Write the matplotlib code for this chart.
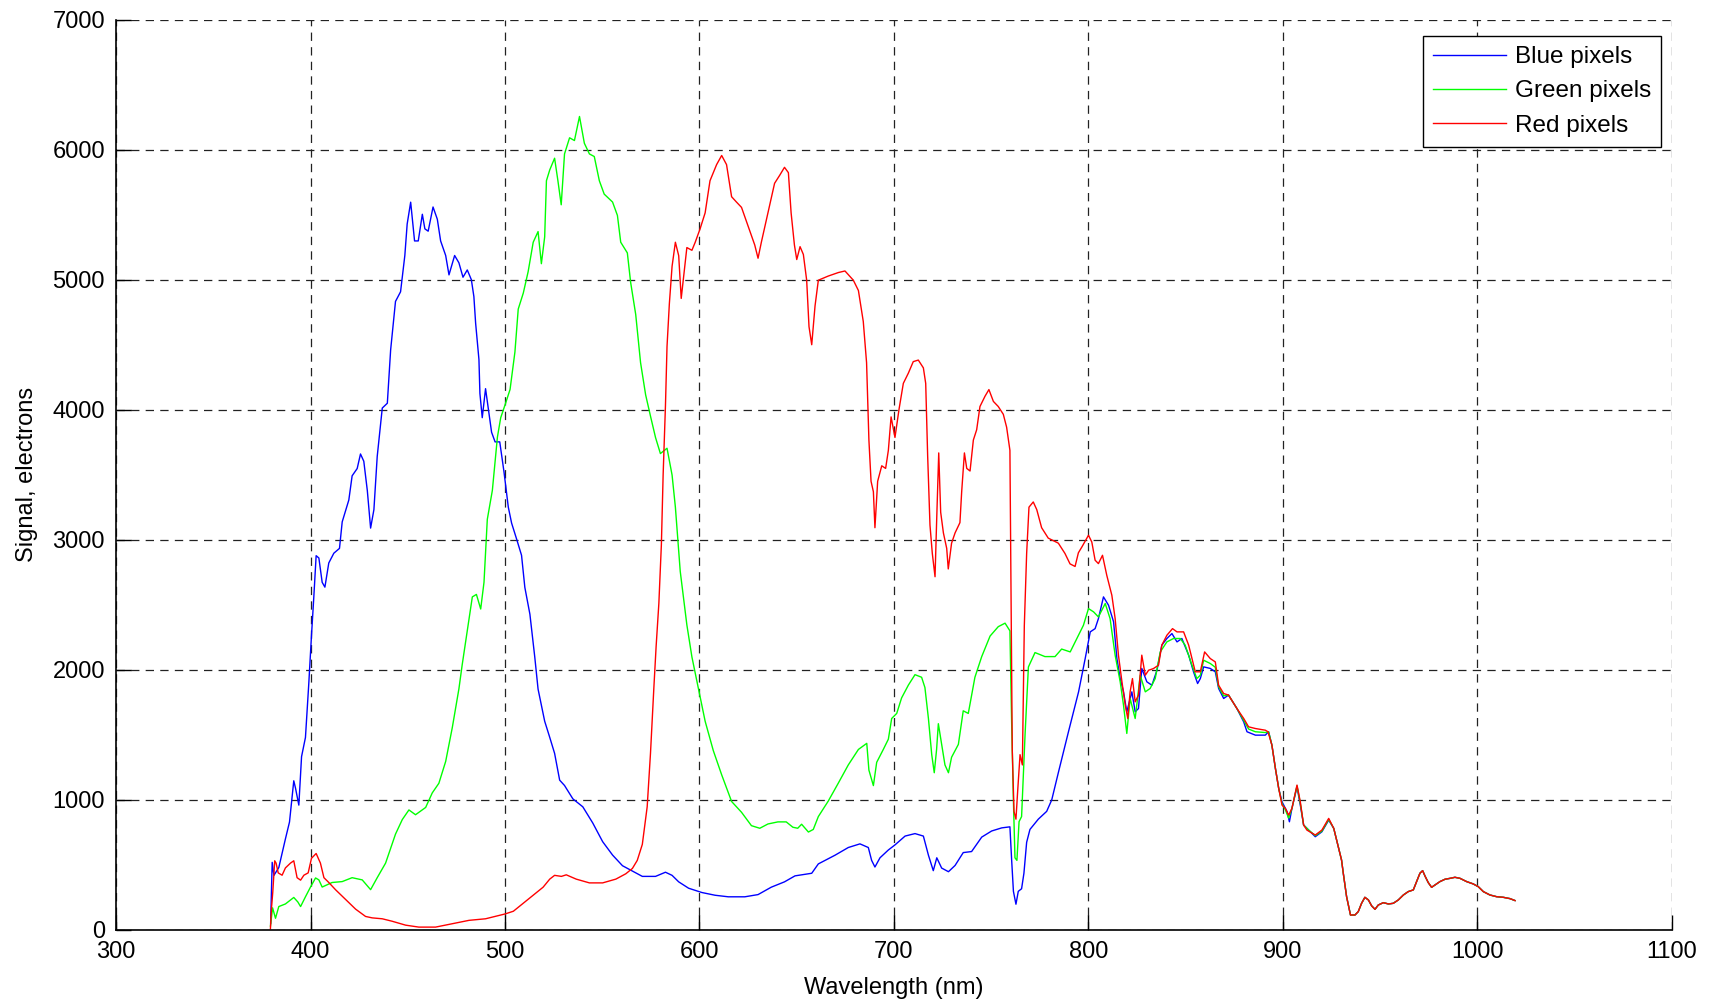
import matplotlib
matplotlib.use("Agg")
import matplotlib.pyplot as plt

plt.rcParams['font.family'] = ['Liberation Sans', 'DejaVu Sans']
plt.rcParams['lines.scale_dashes'] = False

# Spectral response of each pixel colour: (wavelength nm, signal electrons)
blue_pixels = [
    (379.5, 50), (380.3, 520), (381.2, 420), (383.7, 480), (387.1, 700), (389.2, 830),
    (391.4, 1147), (392.3, 1090), (394.0, 960), (395.4, 1333), (397.4, 1480), (399.1, 1890),
    (400.5, 2263), (401.7, 2560), (402.9, 2878), (404.3, 2860), (406.0, 2673), (407.4, 2636),
    (409.4, 2822), (412.0, 2897), (414.9, 2934), (416.3, 3138), (419.7, 3306), (421.4, 3492),
    (424.0, 3548), (425.7, 3660), (427.4, 3604), (429.2, 3380), (430.9, 3090), (432.6, 3232),
    (434.3, 3641), (436.9, 4013), (439.5, 4050), (441.2, 4460), (443.7, 4833), (446.3, 4907),
    (448.5, 5186), (449.7, 5428), (451.5, 5596), (453.5, 5298), (455.4, 5298), (457.5, 5503),
    (458.8, 5391), (460.5, 5373), (463.0, 5559), (465.2, 5465), (466.9, 5298), (469.5, 5186),
    (471.2, 5037), (474.1, 5186), (476.3, 5130), (478.4, 5019), (480.6, 5075), (482.7, 5000),
    (484.0, 4870), (484.9, 4665), (486.6, 4386), (487.1, 4125), (488.3, 3939), (490.0, 4162),
    (491.4, 4013), (493.1, 3827), (494.9, 3753), (497.3, 3753), (499.5, 3520), (501.7, 3251),
    (503.4, 3128), (506.0, 3004), (508.5, 2881), (510.2, 2634), (512.8, 2428), (515.3, 2099),
    (517.0, 1852), (518.7, 1728), (520.4, 1605), (523.0, 1481), (525.5, 1358), (528.1, 1152),
    (530.6, 1111), (534.9, 1008), (540.0, 947), (545.1, 823), (550.2, 679), (555.3, 576),
    (560.4, 494), (565.5, 453), (570.6, 412), (577.4, 412), (582.5, 444), (585.9, 420),
    (589.3, 370), (594.4, 321), (601.2, 288), (608.0, 267), (614.8, 255), (623.3, 255),
    (630.1, 272), (636.9, 329), (643.7, 370), (649.1, 416), (657.7, 436), (661.1, 508),
    (669.7, 575), (676.5, 634), (682.5, 662), (686.8, 634), (688.5, 535), (690.2, 484),
    (692.8, 555), (697.1, 615), (700.5, 654), (705.7, 722), (710.8, 741), (715.1, 722),
    (717.7, 575), (720.2, 456), (722.0, 555), (724.5, 476), (728.0, 448), (731.4, 496),
    (735.6, 595), (739.9, 603), (745.1, 714), (750.2, 761), (755.4, 785), (759.6, 793),
    (760.5, 535), (761.4, 297), (762.7, 198), (763.9, 297), (765.6, 317), (766.8, 436),
    (768.2, 674), (769.9, 773), (774.2, 852), (778.5, 912), (781.1, 1000), (784.6, 1216),
    (789.7, 1524), (794.9, 1831), (798.3, 2087), (800.9, 2292), (803.4, 2317), (805.1, 2394),
    (807.7, 2561), (810.3, 2497), (812.9, 2369), (814.6, 2087), (816.3, 1933), (818.0, 1831),
    (819.7, 1677), (822.3, 1831), (824.0, 1677), (825.7, 1703), (827.4, 2011), (830.0, 1908),
    (832.6, 1882), (835.2, 1997), (837.7, 2190), (840.3, 2241), (842.9, 2279), (845.5, 2215),
    (848.0, 2241), (851.5, 2113), (854.0, 1985), (856.1, 1895), (857.5, 1933), (859.2, 2023),
    (862.6, 2011), (865.2, 1985), (866.9, 1857), (869.5, 1780), (872.0, 1806), (876.3, 1703),
    (879.8, 1600), (881.5, 1524), (885.8, 1498), (890.9, 1498), (892.6, 1524), (894.3, 1421),
    (896.1, 1242), (897.8, 1088), (899.5, 986), (902.1, 909), (903.3, 832), (904.6, 935),
    (907.2, 1101), (908.9, 960), (910.6, 807), (913.2, 768), (916.6, 717), (920.0, 755),
    (923.5, 845), (926.1, 781),
]

green_pixels = [
    (379.4, 30), (380.5, 170), (382.0, 90), (383.7, 180), (387.1, 200), (391.4, 250),
    (393.5, 215), (394.9, 180), (397.4, 255), (400.0, 330), (402.6, 400), (404.3, 385),
    (406.0, 330), (411.1, 365), (416.3, 372), (421.4, 402), (426.6, 385), (430.9, 310),
    (434.3, 402), (438.6, 514), (443.7, 737), (447.2, 849), (450.6, 923), (454.0, 886),
    (459.2, 942), (462.6, 1054), (466.0, 1128), (469.5, 1296), (472.9, 1556), (476.3, 1854),
    (478.0, 2040), (480.6, 2301), (483.2, 2561), (485.3, 2580), (487.5, 2468), (489.2, 2673),
    (490.9, 3157), (493.5, 3380), (496.1, 3790), (497.8, 3939), (500.3, 4050), (502.6, 4156),
    (505.1, 4444), (506.8, 4774), (509.4, 4897), (511.9, 5062), (514.5, 5288), (517.0, 5370),
    (518.7, 5123), (520.4, 5329), (521.3, 5761), (523.0, 5844), (525.5, 5934), (527.2, 5761),
    (528.9, 5576), (530.6, 5967), (533.2, 6091), (535.7, 6070), (538.3, 6255), (540.8, 6049),
    (543.4, 5967), (545.9, 5947), (548.5, 5761), (551.0, 5658), (555.3, 5597), (557.8, 5494),
    (559.5, 5288), (562.9, 5206), (564.6, 4979), (567.2, 4733), (569.7, 4362), (572.3, 4115),
    (574.8, 3951), (577.4, 3786), (579.9, 3663), (583.3, 3704), (585.9, 3498), (587.6, 3251),
    (590.1, 2757), (591.8, 2551), (593.5, 2346), (596.1, 2099), (599.5, 1852), (602.9, 1605),
    (607.1, 1379), (611.4, 1193), (616.5, 988), (621.6, 905), (626.7, 802), (631.0, 782),
    (635.2, 815), (640.3, 831), (644.6, 831), (648.0, 790), (650.5, 782), (652.5, 813),
    (656.0, 753), (658.5, 773), (661.1, 872), (666.2, 991), (671.4, 1130), (676.5, 1269),
    (681.7, 1388), (686.0, 1435), (687.1, 1229), (689.4, 1110), (691.1, 1289), (694.5, 1388),
    (697.1, 1467), (698.8, 1626), (701.4, 1665), (703.9, 1784), (707.4, 1883), (710.8, 1963),
    (714.2, 1943), (715.9, 1864), (717.7, 1626), (719.4, 1348), (720.7, 1209), (721.9, 1388),
    (722.8, 1586), (724.5, 1427), (726.2, 1269), (728.0, 1209), (729.6, 1328), (733.1, 1427),
    (735.6, 1685), (738.2, 1665), (741.6, 1943), (745.1, 2102), (749.4, 2260), (753.6, 2332),
    (757.1, 2359), (759.6, 2300), (760.5, 1586), (761.4, 991), (762.2, 555), (763.2, 535),
    (764.3, 833), (765.6, 872), (767.4, 1507), (769.1, 2022), (772.5, 2133), (777.6, 2102),
    (782.8, 2102), (786.2, 2160), (790.6, 2138), (794.0, 2241), (797.4, 2343), (800.0, 2471),
    (802.6, 2446), (805.1, 2407), (808.6, 2510), (811.1, 2394), (813.7, 2113), (816.3, 1908),
    (818.0, 1729), (819.7, 1511), (821.4, 1780), (824.0, 1626), (826.6, 1959), (829.2, 1831),
    (831.7, 1857), (834.3, 1933), (836.9, 2138), (840.3, 2215), (843.7, 2241), (847.2, 2241),
    (849.7, 2190), (853.2, 2036), (855.7, 1933), (857.5, 1959), (859.2, 2074), (862.6, 2049),
    (865.2, 2020), (866.9, 1870), (869.5, 1800), (872.0, 1806), (876.3, 1703), (879.8, 1612),
    (882.3, 1545), (885.8, 1524), (890.9, 1518), (892.6, 1524), (894.3, 1421), (896.1, 1242),
    (897.8, 1088), (899.5, 970), (901.2, 925), (902.9, 860), (904.6, 935), (907.2, 1108),
    (908.9, 975), (910.6, 807), (913.2, 768), (916.6, 725), (920.0, 760), (923.5, 850),
    (926.1, 781),
]

red_pixels = [
    (379.4, 10), (379.9, 160), (380.6, 290), (381.6, 532), (382.3, 514), (383.4, 439),
    (385.4, 421), (387.1, 477), (389.7, 514), (391.4, 532), (393.1, 402), (394.9, 383),
    (396.6, 421), (398.8, 439), (400.5, 551), (402.9, 588), (405.1, 514), (406.9, 402),
    (409.4, 365), (412.9, 309), (418.0, 235), (423.2, 160), (428.3, 104), (431.7, 93),
    (436.9, 86), (442.0, 67), (448.9, 37), (455.7, 22), (464.3, 22), (472.9, 48),
    (481.5, 74), (490.0, 86), (496.9, 112), (500.0, 123), (504.3, 144), (509.4, 206),
    (514.5, 267), (519.6, 329), (523.0, 391), (525.5, 420), (529.0, 412), (531.5, 424),
    (536.6, 391), (543.4, 362), (550.2, 362), (557.0, 391), (562.1, 432), (565.5, 473),
    (568.0, 535), (570.6, 658), (573.1, 947), (574.8, 1358), (576.5, 1852), (577.7, 2181),
    (579.1, 2510), (580.4, 2963), (581.3, 3498), (582.5, 4033), (583.3, 4486), (584.5, 4815),
    (585.9, 5103), (587.6, 5288), (589.3, 5185), (590.6, 4856), (591.8, 5021), (593.5, 5247),
    (596.1, 5226), (597.8, 5288), (600.3, 5391), (602.9, 5514), (605.4, 5761), (608.8, 5885),
    (611.4, 5955), (613.9, 5885), (616.5, 5638), (619.0, 5597), (621.6, 5556), (625.0, 5412),
    (628.4, 5267), (630.1, 5165), (631.8, 5288), (635.2, 5514), (638.6, 5741), (641.2, 5802),
    (643.7, 5864), (645.7, 5823), (647.1, 5514), (648.8, 5267), (650.0, 5155), (651.7, 5254),
    (653.4, 5194), (655.1, 4996), (656.3, 4639), (657.7, 4500), (659.4, 4798), (661.1, 4996),
    (666.2, 5028), (671.4, 5055), (674.8, 5067), (679.1, 4996), (681.7, 4917), (684.2, 4679),
    (685.9, 4362), (687.1, 3767), (688.2, 3450), (689.4, 3370), (690.2, 3093), (691.6, 3450),
    (693.7, 3569), (695.7, 3549), (697.1, 3688), (698.5, 3945), (700.5, 3787), (702.6, 4005),
    (704.8, 4203), (707.4, 4282), (709.9, 4370), (712.5, 4382), (715.1, 4322), (716.3, 4203),
    (717.3, 3648), (718.5, 3113), (719.7, 2895), (721.1, 2716), (721.9, 3132), (723.0, 3668),
    (724.0, 3212), (725.4, 3053), (727.1, 2934), (727.9, 2776), (729.6, 2974), (731.4, 3053),
    (733.9, 3132), (734.8, 3370), (736.2, 3668), (737.4, 3549), (739.1, 3529), (740.8, 3767),
    (742.5, 3846), (744.2, 4025), (746.8, 4104), (748.8, 4155), (751.1, 4064), (753.6, 4025),
    (756.2, 3965), (757.9, 3866), (759.6, 3688), (760.2, 2577), (760.8, 1388), (761.7, 912),
    (762.7, 852), (763.6, 1071), (764.8, 1348), (766.0, 1269), (767.0, 2339), (768.2, 2895),
    (769.4, 3251), (771.6, 3291), (773.4, 3232), (775.9, 3093), (779.3, 3013), (784.5, 2974),
    (787.9, 2895), (790.5, 2815), (793.1, 2795), (794.8, 2900), (796.6, 2945), (800.0, 3035),
    (801.7, 2983), (803.4, 2843), (805.1, 2817), (807.2, 2881), (809.4, 2727), (812.0, 2574),
    (813.7, 2394), (815.4, 2113), (817.2, 1908), (818.9, 1729), (820.2, 1626), (821.4, 1831),
    (822.6, 1933), (824.0, 1754), (825.7, 1805), (827.4, 2113), (829.2, 1959), (830.9, 1997),
    (833.4, 2010), (836.0, 2036), (837.7, 2190), (840.3, 2266), (843.2, 2317), (845.5, 2292),
    (848.9, 2292), (851.5, 2190), (854.9, 1985), (857.5, 1985), (859.7, 2138), (862.6, 2087),
    (865.2, 2061), (866.9, 1882), (869.5, 1818), (872.0, 1806), (876.3, 1703), (879.8, 1626),
    (882.3, 1562), (885.8, 1549), (890.9, 1536), (892.3, 1524), (894.3, 1421), (896.1, 1242),
    (897.8, 1088), (899.5, 960), (901.2, 935), (902.9, 883), (904.6, 935), (907.2, 1114),
    (908.9, 986), (910.6, 807), (912.3, 768), (916.6, 730), (920.0, 768), (923.5, 858),
    (926.1, 781),
]

# Beyond ~927 nm the three channels respond identically
shared_tail = [
    (928.4, 641), (930.1, 538), (931.0, 436), (932.7, 256), (934.7, 115), (937.0, 115),
    (938.7, 141), (940.4, 205), (942.1, 251), (943.9, 231), (945.6, 185), (947.3, 159),
    (949.0, 192), (951.6, 210), (954.2, 200), (956.7, 205), (959.3, 231), (961.9, 269),
    (964.4, 295), (967.0, 308), (968.7, 372), (970.4, 436), (971.8, 456), (973.0, 415),
    (974.7, 364), (976.4, 328), (978.2, 346), (980.7, 372), (983.3, 390), (985.9, 397),
    (988.4, 405), (991.0, 397), (994.4, 372), (997.8, 354), (1000.4, 333), (1003.0, 295),
    (1006.4, 269), (1009.8, 256), (1013.3, 251), (1016.7, 241), (1019.3, 226),
]

series_labels = ["Blue pixels", "Green pixels", "Red pixels"]
series_colors = ["#0000ff", "#00ff00", "#ff0000"]
x_ticks = list(range(300, 1101, 100))
y_ticks = list(range(0, 7001, 1000))

fig = plt.figure(figsize=(17.11, 9.99), dpi=100)
ax = fig.add_axes([0.0678, 0.0691, 0.9094, 0.9113])

for pts, label, color in zip([blue_pixels, green_pixels, red_pixels],
                             series_labels, series_colors):
    data = pts + shared_tail
    wl = [p[0] for p in data]
    sig = [p[1] for p in data]
    ax.plot(wl, sig, color=color, lw=1.0, label=label)

ax.set_xlim(300, 1100)
ax.set_ylim(0, 7000)
ax.set_xticks(x_ticks)
ax.set_yticks(y_ticks)
ax.tick_params(direction='in', length=11, width=1, labelsize=17, pad=8,
               top=False, right=False, colors='black')

ax.grid(True, color='#222222', linestyle=(0, (6, 4.5)), linewidth=0.9)
ax.set_axisbelow(True)
for side in ('top', 'right'):
    ax.spines[side].set_visible(False)
for side in ('left', 'bottom'):
    ax.spines[side].set_linewidth(1.2)

ax.set_xlabel("Wavelength (nm)", fontsize=17, labelpad=10)
ax.set_ylabel("Signal, electrons", fontsize=17, labelpad=10)

leg = ax.legend(loc='upper right', bbox_to_anchor=(0.993, 0.982), fontsize=17.5,
                fancybox=False, framealpha=1, edgecolor='black',
                handlelength=3.0, handletextpad=0.35, labelspacing=0.5,
                borderpad=0.42, borderaxespad=0.0)
leg.get_frame().set_linewidth(1.0)

fig.savefig("out.png", dpi=100)
